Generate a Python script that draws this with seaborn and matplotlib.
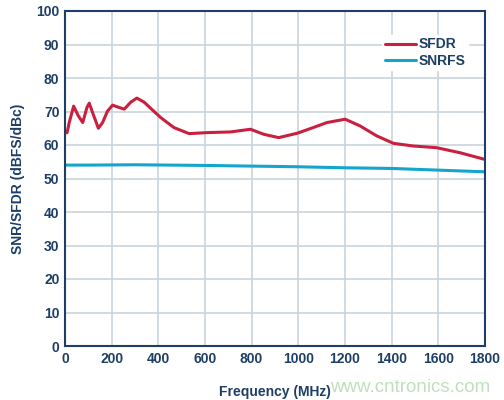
import numpy as np
import pandas as pd
import matplotlib
matplotlib.use("Agg")
import matplotlib.pyplot as plt
import seaborn as sns

# values
sfdr_freq = [0, 9, 18, 37, 57, 76, 94, 104, 118, 143, 161, 182, 204, 232, 254, 282, 308, 339,
             368, 410, 467, 532, 610, 710, 795, 852, 916, 995, 1052, 1123, 1201, 1265, 1337,
             1408, 1493, 1593, 1693, 1800]
sfdr_val = [63.6, 63.7, 66.7, 71.6, 68.7, 66.7, 71.2, 72.5, 69.7, 65.0, 66.7, 70.1, 71.9, 71.2,
            70.7, 72.8, 74.0, 72.8, 70.9, 68.2, 65.2, 63.4, 63.7, 63.9, 64.7, 63.2, 62.2, 63.5,
            64.9, 66.7, 67.7, 65.7, 62.7, 60.5, 59.7, 59.2, 57.7, 55.7]
snr_freq = [0, 100, 300, 600, 800, 1000, 1200, 1400, 1600, 1800]
snr_val = [54.0, 54.0, 54.1, 53.9, 53.7, 53.5, 53.2, 53.0, 52.5, 52.0]

navy = "#1d3f66"
red = "#c8203e"
blue = "#13a5cc"

sns.set_style("white")
plt.rcParams["font.family"] = ["Liberation Sans", "DejaVu Sans"]
plt.rcParams["font.weight"] = "bold"

df = pd.concat([
    pd.DataFrame({"freq": sfdr_freq, "val": sfdr_val, "series": "SFDR"}),
    pd.DataFrame({"freq": snr_freq, "val": snr_val, "series": "SNRFS"}),
])

fig = plt.figure(figsize=(5.04, 4.0), dpi=100)
ax = fig.add_axes([0.129, 0.135, 0.833, 0.8375])

sns.lineplot(data=df, x="freq", y="val", hue="series", palette={"SFDR": red, "SNRFS": blue},
             linewidth=2.2, ax=ax)
for ln in ax.get_lines():
    ln.set_solid_joinstyle("round")
    ln.set_solid_capstyle("round")

ax.set_xlim(0, 1800)
ax.set_ylim(0, 100)
ax.set_xticks(range(0, 1801, 200))
ax.set_yticks(range(0, 101, 10))
ax.grid(True, color="#c9d3dd", linewidth=1.2)
ax.set_axisbelow(True)
for s in ax.spines.values():
    s.set_color(navy)
    s.set_linewidth(1.5)
ax.tick_params(colors=navy, labelsize=10, length=0, pad=4)
for lbl in ax.get_xticklabels() + ax.get_yticklabels():
    lbl.set_fontweight("bold")
ax.set_xlabel("Frequency (MHz)", color=navy, fontsize=10, fontweight="bold", labelpad=14)
ax.set_ylabel("SNR/SFDR (dBFS/dBc)", color=navy, fontsize=10, fontweight="bold", labelpad=8)

leg = ax.legend(loc="upper right", bbox_to_anchor=(0.977, 0.95), frameon=True, fontsize=10,
                handlelength=2.2, handletextpad=0.2, labelspacing=0.15, borderpad=0.2)
leg.get_frame().set_edgecolor("white")
leg.get_frame().set_facecolor("white")
leg.get_frame().set_alpha(1)
for t in leg.get_texts():
    t.set_color(navy)
    t.set_fontweight("bold")

fig.text(0.655, 0.02, "www.cntronics.com", color="#bfe0bc", fontsize=13.5, fontweight="normal")

fig.savefig("out.png", dpi=100)
